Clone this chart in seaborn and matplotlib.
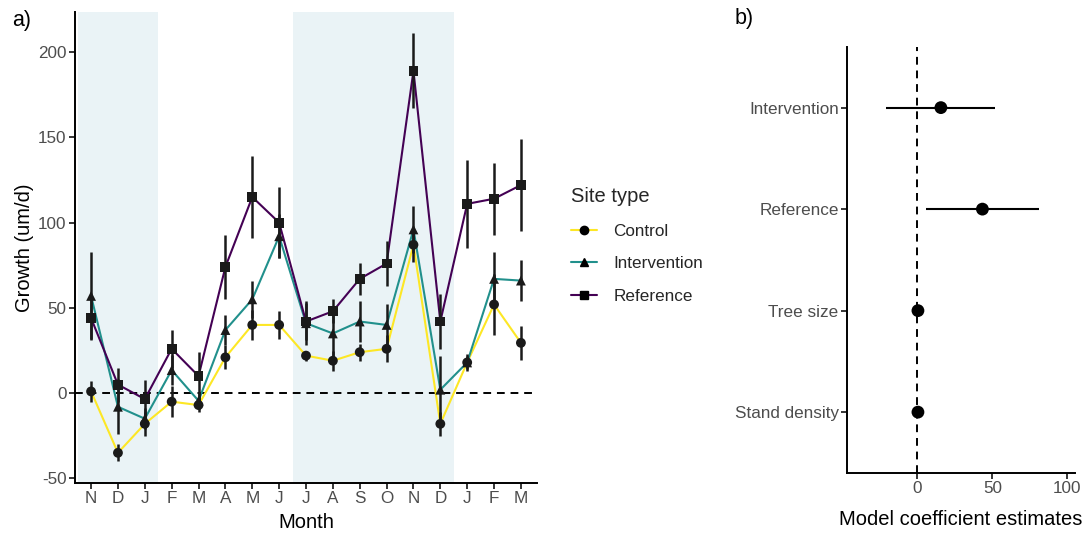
import numpy as np
import pandas as pd
import matplotlib
matplotlib.use("Agg")
import matplotlib.pyplot as plt
from matplotlib.lines import Line2D
import seaborn as sns

months = ["N", "D", "J", "F", "M", "A", "M", "J", "J", "A", "S", "O", "N", "D", "J", "F", "M"]
control = [1, -35, -18, -5, -7, 21, 40, 40, 22, 19, 24, 26, 87, -18, 18, 52, 29.5]
control_err = [6, 5, 7, 9, 4, 7, 9, 8, 3, 6, 5, 8, 10, 7, 5, 18, 10]
intervention = [57, -8, -15, 13.5, -4.5, 37, 55, 92, 41, 35, 42, 40, 96, 2, 18, 67, 66]
intervention_err = [26, 16, 6, 9, 5, 9, 11, 13, 13, 14, 12, 12, 14, 20, 4, 16, 12]
reference = [44, 5, -3.5, 26, 10, 74, 115, 100, 42, 48, 67, 76, 189, 42, 111, 114, 122]
reference_err = [12, 10, 11, 11, 14, 19, 24, 21, 11, 7, 9.5, 13, 22, 16, 26, 21, 27]

site_types = ["Control", "Intervention", "Reference"]
site_colors = ["#FDE725", "#21908C", "#440154"]
site_markers = ["o", "^", "s"]

# winter shading (month index ranges)
shade_ranges = [(0, 2), (8, 13)]

coef_terms = ["Intervention", "Reference", "Tree size", "Stand density"]
coef_est = [15.6, 43.3, 0.3, 0.3]
coef_lo = [-21, 5.8, 0.0, 0.0]
coef_hi = [52, 80.7, 0.6, 0.6]

rows = []
for s, v, e in zip(site_types, [control, intervention, reference],
                   [control_err, intervention_err, reference_err]):
    for i, (vv, ee) in enumerate(zip(v, e)):
        rows.append({"site": s, "idx": i, "growth": vv, "err": ee})
df = pd.DataFrame(rows)
cdf = pd.DataFrame({"term": coef_terms, "est": coef_est, "lo": coef_lo, "hi": coef_hi})

sns.set_theme(style="white")
plt.rcParams["font.family"] = ["Liberation Sans", "DejaVu Sans"]
plt.rcParams["axes.unicode_minus"] = False

TICK_FS = 12.3
TITLE_FS = 14.5

fig = plt.figure(figsize=(10.88, 5.34), dpi=100)
ax = fig.add_axes([0.0689, 0.0955, 0.4247, 0.882])
bx = fig.add_axes([0.7785, 0.1142, 0.2095, 0.7983])

tick_col = "#4D4D4D"

# ---- panel a
for a0, a1 in shade_ranges:
    ax.axvspan(a0 - 0.5, a1 + 0.5, color="#EAF3F6", lw=0, zorder=0)
ax.axhline(0, color="black", ls=(0, (4, 3)), lw=1.4, zorder=1)

sns.lineplot(data=df, x="idx", y="growth", hue="site", hue_order=site_types,
             palette=site_colors, lw=1.5, legend=False, ax=ax, zorder=2,
             estimator=None, sort=True)
for s in site_types:
    d = df[df.site == s]
    ax.vlines(d["idx"], d["growth"] - d["err"], d["growth"] + d["err"],
              color="#1a1a1a", lw=1.8, zorder=3)
sns.scatterplot(data=df, x="idx", y="growth", style="site", style_order=site_types,
                markers=dict(zip(site_types, site_markers)), color="#1a1a1a",
                s=50, edgecolor="none", legend=False, ax=ax, zorder=4)

ax.set_xlim(-0.6, len(months) - 1 + 0.6)
ax.set_ylim(-52.7, 223.5)
ax.set_xticks(range(len(months)))
ax.set_xticklabels(months)
ax.set_yticks([-50, 0, 50, 100, 150, 200])
ax.set_xlabel("Month", fontsize=TITLE_FS, color="black", labelpad=4.5)
ax.set_ylabel("Growth (um/d)", fontsize=TITLE_FS, color="black", labelpad=3)
for sp in ["top", "right"]:
    ax.spines[sp].set_visible(False)
for sp in ["left", "bottom"]:
    ax.spines[sp].set_color("black")
    ax.spines[sp].set_linewidth(1.4)
ax.tick_params(axis="both", which="both", direction="out", length=4, width=1.1,
               color="black", labelcolor=tick_col, labelsize=TICK_FS, bottom=True, left=True, pad=2)

handles = [Line2D([0], [0], color=c, marker=m, markersize=6, markerfacecolor="black",
                  markeredgecolor="black", lw=1.5)
           for c, m in zip(site_colors, site_markers)]
leg = fig.legend(handles, site_types, title="Site type", loc="upper left",
                 bbox_to_anchor=(0.5245, 0.6505), frameon=False, fontsize=TICK_FS,
                 title_fontsize=TITLE_FS, handlelength=1.55, labelspacing=1.04,
                 handletextpad=0.95, alignment="left", borderaxespad=0, borderpad=0)
leg._legend_box.sep = 13

# ---- panel b
bx.axvline(0, color="black", ls=(0, (4, 3)), lw=1.4, zorder=1)
cdf["pos"] = np.arange(len(cdf))
bx.hlines(cdf["pos"], cdf["lo"], cdf["hi"], color="black", lw=1.5, zorder=2)
sns.scatterplot(data=cdf, x="est", y="pos", color="black", s=85, edgecolor="none",
                ax=bx, zorder=3, legend=False)
bx.set_ylim(len(cdf) - 1 + 0.6, -0.6)
bx.set_yticks(range(len(cdf)))
bx.set_yticklabels(coef_terms)
bx.set_xlim(-47, 105)
bx.set_xticks([0, 50, 100])
bx.set_xlabel("Model coefficient estimates", fontsize=TITLE_FS, color="black", labelpad=10)
bx.set_ylabel("")
for sp in ["top", "right"]:
    bx.spines[sp].set_visible(False)
for sp in ["left", "bottom"]:
    bx.spines[sp].set_color("black")
    bx.spines[sp].set_linewidth(1.4)
bx.tick_params(axis="both", which="both", direction="out", length=4, width=1.1,
               color="black", labelcolor=tick_col, labelsize=TICK_FS, bottom=True, left=True, pad=2)

fig.text(0.011, 0.962, "a)", fontsize=15.5, color="black", va="center", ha="left")
fig.text(0.675, 0.966, "b)", fontsize=15.5, color="black", va="center", ha="left")

fig.savefig("out.png", dpi=100)
